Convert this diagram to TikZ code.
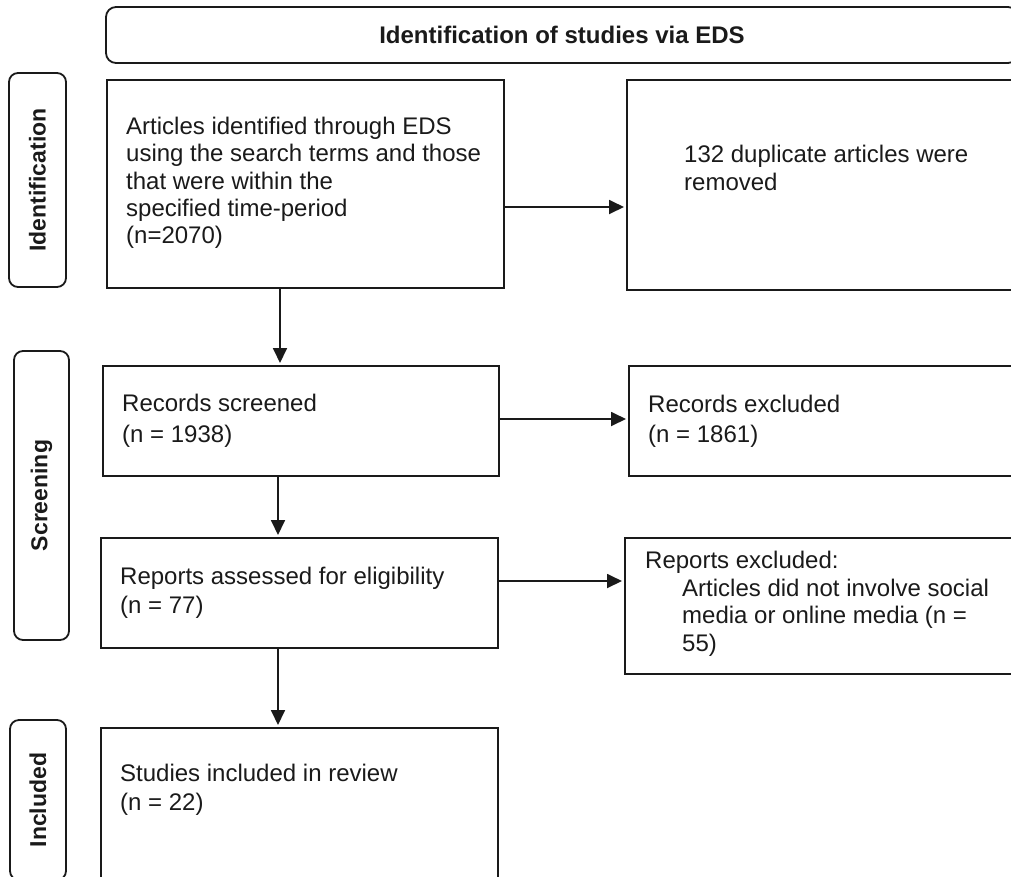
\documentclass[tikz,border=0pt]{standalone}
\usepackage{fontspec}
\setmainfont{Liberation Sans}
\usetikzlibrary{arrows.meta}
\newcommand{\mlines}[1]{\begin{tabular}[t]{@{}l@{}}#1\end{tabular}}
\definecolor{ink}{HTML}{1A1A1A}
\tikzset{
  box/.style={draw=ink, line width=1.8pt, inner sep=0pt, anchor=north west},
  side/.style={draw=ink, line width=1.8pt, rounded corners=9pt, rotate=90, inner sep=0pt,
    font=\fontsize{23}{27}\selectfont\bfseries, text=ink},
  lbl/.style={anchor=base west, inner sep=0pt, text=ink},
  arr/.style={draw=ink, line width=1.8pt, -{Triangle[length=15pt,width=14pt]}, shorten >=2pt},
}
\begin{document}
\begin{tikzpicture}[x=1pt,y=-1pt]
\useasboundingbox (0,0) rectangle (1011,876);
\clip (0,0) rectangle (1011,876);
% header
\node[draw=ink, line width=1.8pt, rounded corners=10pt, inner sep=0pt,
  minimum width=912pt, minimum height=56pt, text=ink,
  font=\fontsize{24}{27}\selectfont\bfseries] (head) at (562,35) {Identification of studies via EDS};
% side labels
\node[side, minimum width=214pt, minimum height=57pt] (sid) at (37.5,180) {Identification};
\node[side, minimum width=289pt, minimum height=55pt] (sscr) at (41.5,495.5) {Screening};
\node[side, minimum width=160pt, minimum height=56pt] (sinc) at (38,800) {Included};
% boxes
\node[box, minimum width=397pt, minimum height=208pt] (b1) at (106,79) {};
\node[box, minimum width=420pt, minimum height=210pt] (dup) at (626,79) {};
\node[box, minimum width=396pt, minimum height=110pt] (b2) at (102,365) {};
\node[box, minimum width=412pt, minimum height=110pt] (rexc) at (628,365) {};
\node[box, minimum width=397pt, minimum height=110pt] (b3) at (100,537) {};
\node[box, minimum width=416pt, minimum height=136pt] (pexc) at (624,537) {};
\node[box, minimum width=397pt, minimum height=160pt] (b4) at (100,727) {};
% texts
\node[lbl, font=\fontsize{24}{27.25}\selectfont] (t1) at (126,134.5)
  {\mlines{Articles identified through EDS\\using the search terms and those\\that were within the\\specified time-period\\(n=2070)}};
\node[lbl, font=\fontsize{24}{28}\selectfont] (tdup) at (684,162.5)
  {\mlines{132 duplicate articles were\\removed}};
\node[lbl, font=\fontsize{24}{31}\selectfont] (t2) at (122,411.5)
  {\mlines{Records screened\\(n = 1938)}};
\node[lbl, font=\fontsize{24}{30}\selectfont] (trexc) at (648,412.5)
  {\mlines{Records excluded\\(n = 1861)}};
\node[lbl, font=\fontsize{24}{29.5}\selectfont] (t3) at (120,584)
  {\mlines{Reports assessed for eligibility\\(n = 77)}};
\node[lbl, font=\fontsize{24}{27.5}\selectfont] (tpexc) at (645,568.5)
  {\mlines{Reports excluded:\\\hspace*{37pt}Articles did not involve social\\\hspace*{37pt}media or online media (n =\\\hspace*{37pt}55)}};
\node[lbl, font=\fontsize{24}{29}\selectfont] (t4) at (120,781.5)
  {\mlines{Studies included in review\\(n = 22)}};
% arrow columns
\coordinate (cA) at (280,0);
\coordinate (cB) at (278,0);
\coordinate (r1) at (0,207);
\coordinate (r2) at (0,419);
\coordinate (r3) at (0,581);
\draw[arr] (cA |- b1.south) -- (cA |- b2.north);
\draw[arr] (cB |- b2.south) -- (cB |- b3.north);
\draw[arr] (cB |- b3.south) -- (cB |- b4.north);
\draw[arr] (b1.east |- r1) -- (dup.west |- r1);
\draw[arr] (b2.east |- r2) -- (rexc.west |- r2);
\draw[arr] (b3.east |- r3) -- (pexc.west |- r3);
\end{tikzpicture}
\end{document}
